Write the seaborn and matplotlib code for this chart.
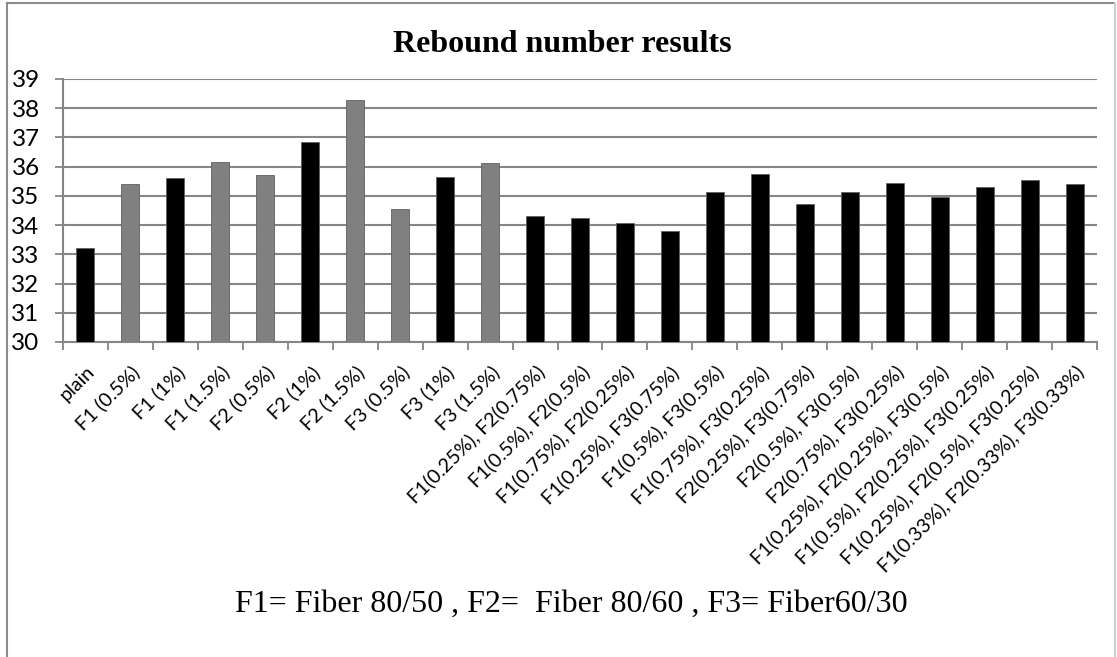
import matplotlib
matplotlib.use("Agg")
import matplotlib.pyplot as plt
import seaborn as sns
import pandas as pd
from matplotlib.lines import Line2D
from matplotlib.ticker import FixedLocator

categories = [
    "plain", "F1 (0.5%)", "F1 (1%)", "F1 (1.5%)", "F2 (0.5%)", "F2 (1%)",
    "F2 (1.5%)", "F3 (0.5%)", "F3 (1%)", "F3 (1.5%)",
    "F1(0.25%), F2(0.75%)", "F1(0.5%), F2(0.5%)", "F1(0.75%), F2(0.25%)",
    "F1(0.25%), F3(0.75%)", "F1(0.5%), F3(0.5%)", "F1(0.75%), F3(0.25%)",
    "F2(0.25%), F3(0.75%)", "F2(0.5%), F3(0.5%)", "F2(0.75%), F3(0.25%)",
    "F1(0.25%), F2(0.25%), F3(0.5%)", "F1(0.5%), F2(0.25%), F3(0.25%)",
    "F1(0.25%), F2(0.5%), F3(0.25%)", "F1(0.33%), F2(0.33%), F3(0.33%)",
]
values = [33.20, 35.42, 35.61, 36.15, 35.70, 36.86, 38.27, 34.54, 35.65, 36.11,
          34.31, 34.24, 34.06, 33.81, 35.13, 35.76, 34.73, 35.12, 35.43,
          34.97, 35.30, 35.55, 35.39]
groups = ["dark", "grey", "dark", "grey", "grey", "dark", "grey", "grey", "dark", "grey",
          "dark", "dark", "dark", "dark", "dark", "dark", "dark", "dark", "dark",
          "dark", "dark", "dark", "dark"]
palette = {"dark": "#000000", "grey": "#808080"}
yticks = [30, 31, 32, 33, 34, 35, 36, 37, 38, 39]
title = "Rebound number results"
footnote = "F1= Fiber 80/50 , F2=  Fiber 80/60 , F3= Fiber60/30"

W, H = 1117, 657
fig = plt.figure(figsize=(W / 100, H / 100), dpi=100)
ax = fig.add_axes([63 / W, 1 - 342 / H, (1097 - 63) / W, (342 - 79) / H])

df = pd.DataFrame({"cat": categories, "val": values, "grp": groups})
sns.barplot(data=df, x="cat", y="val", hue="grp", palette=palette, dodge=False,
            legend=False, width=0.4, edgecolor="#606060", linewidth=0.6, ax=ax,
            zorder=3)

ax.set_ylim(yticks[0], yticks[-1])
ax.set_xlim(-0.5, len(categories) - 0.5)
ax.set_yticks(yticks)
ax.set_yticklabels([str(t) for t in yticks], fontsize=17.5, family="Lato")
ax.set_xlabel("")
ax.set_ylabel("")

ax.set_xticks(range(len(categories)))
ax.set_xticklabels(categories, rotation=45, ha="right", rotation_mode="anchor",
                   fontsize=14.2, family="Lato")
ax.xaxis.set_minor_locator(FixedLocator([i - 0.5 for i in range(len(categories) + 1)]))
ax.tick_params(axis="x", which="major", length=0, pad=15)
ax.tick_params(axis="x", which="minor", length=5.8, width=1.3, color="#868686", direction="out")
ax.tick_params(axis="y", which="major", length=5.8, width=1.3, color="#868686", pad=11)

ax.grid(axis="y", color="#868686", linewidth=1.5, zorder=0)
ax.set_axisbelow(True)
for s in ["top", "right"]:
    ax.spines[s].set_visible(False)
for s in ["left", "bottom"]:
    ax.spines[s].set_color("#868686")
    ax.spines[s].set_linewidth(1.5)
ax.set_facecolor("white")

fig.text(562 / W, 1 - 45 / H, title, ha="center", va="center", fontsize=23,
         fontweight="bold", family="Liberation Serif")
fig.text(571 / W, 1 - 604 / H, footnote, ha="center", va="center", fontsize=23,
         family="Liberation Serif")

# outer chart frame
fc = "#8c8c8c"
fig.add_artist(Line2D([7 / W, 7 / W], [0, 1 - 3 / H], transform=fig.transFigure, color=fc, lw=1.5))
fig.add_artist(Line2D([7 / W, 1115 / W], [1 - 3 / H, 1 - 3 / H], transform=fig.transFigure, color=fc, lw=1.5))
fig.add_artist(Line2D([1115 / W, 1115 / W], [0, 1 - 3 / H], transform=fig.transFigure, color="#d0d0d0", lw=1.5))

fig.savefig("out.png", dpi=100, facecolor="white")
